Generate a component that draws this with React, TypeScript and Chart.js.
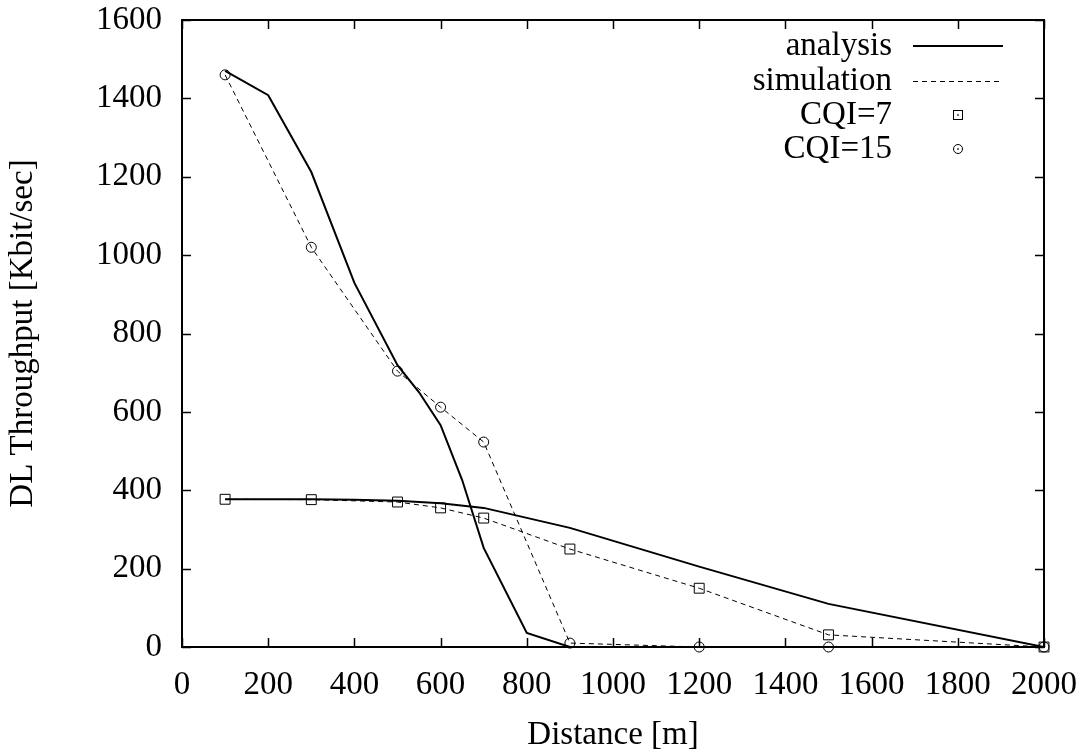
import React, { useEffect, useRef } from "react";
import { Chart, registerables } from "chart.js";

Chart.register(...registerables);

// Analysis curves
const analysisDist15 = [100, 200, 300, 400, 500, 550, 600, 650, 700, 800, 900, 1200, 1500, 2000];
const analysisCqi15 = [1470, 1408, 1212, 929, 719, 650, 566, 426, 253, 36, 0, 0, 0, 0];
const analysisDist7 = [100, 200, 300, 400, 500, 600, 700, 900, 1200, 1500, 2000];
const analysisCqi7 = [377, 377, 377, 376, 373, 367, 355, 304, 205, 110, 0];

// Simulation points
const simDist = [100, 300, 500, 600, 700, 900, 1200, 1500, 2000];
const simCqi15 = [1460, 1020, 704, 612, 523, 10, 0, 0, 0];
const simCqi7 = [377, 376, 370, 355, 329, 250, 150, 31, 0];

const xTicks = [0, 200, 400, 600, 800, 1000, 1200, 1400, 1600, 1800, 2000];
const yTicks = [0, 200, 400, 600, 800, 1000, 1200, 1400, 1600];

const legendLabels = ["analysis", "simulation", "CQI=7", "CQI=15"];
const xTitle = "Distance [m]";
const yTitle = "DL Throughput [Kbit/sec]";

const FONT = "'Liberation Serif', 'Times New Roman', serif";

const pts = (xs: number[], ys: number[]) => xs.map((x, i) => ({ x, y: ys[i] }));

const framePlugin = {
  id: "frame",
  afterDraw(chart: any) {
    const { ctx, chartArea: a, scales } = chart;
    const xs = scales.x;
    const ys = scales.y;
    ctx.save();
    ctx.strokeStyle = "#000";
    ctx.lineWidth = 1.5;
    const tl = 9;
    ctx.beginPath();
    xTicks.forEach((v) => {
      const px = Math.round(xs.getPixelForValue(v)) + 0.5;
      ctx.moveTo(px, a.bottom);
      ctx.lineTo(px, a.bottom - tl);
      ctx.moveTo(px, a.top);
      ctx.lineTo(px, a.top + tl);
    });
    yTicks.forEach((v) => {
      const py = Math.round(ys.getPixelForValue(v)) + 0.5;
      ctx.moveTo(a.left, py);
      ctx.lineTo(a.left + tl, py);
      ctx.moveTo(a.right, py);
      ctx.lineTo(a.right - tl, py);
    });
    ctx.stroke();
    ctx.lineWidth = 2;
    ctx.strokeRect(a.left, a.top, a.right - a.left, a.bottom - a.top);

    // legend
    ctx.font = `33px ${FONT}`;
    ctx.fillStyle = "#000";
    ctx.textAlign = "right";
    ctx.textBaseline = "middle";
    const textRight = 892;
    const sx0 = 913;
    const sx1 = 1003;
    const rowY = [46, 81, 115, 149];
    legendLabels.forEach((lab, i) => {
      ctx.fillText(lab, textRight, rowY[i]);
    });
    ctx.lineWidth = 2;
    ctx.setLineDash([]);
    ctx.beginPath();
    ctx.moveTo(sx0, rowY[0]);
    ctx.lineTo(sx1, rowY[0]);
    ctx.stroke();
    ctx.lineWidth = 1;
    ctx.setLineDash([5, 4]);
    ctx.beginPath();
    ctx.moveTo(sx0, rowY[1] + 0.5);
    ctx.lineTo(sx1, rowY[1] + 0.5);
    ctx.stroke();
    ctx.setLineDash([]);
    const cx = (sx0 + sx1) / 2;
    ctx.strokeRect(cx - 4.5, rowY[2] - 4.5, 9, 9);
    ctx.fillRect(cx - 0.75, rowY[2] - 0.75, 1.5, 1.5);
    ctx.beginPath();
    ctx.arc(cx, rowY[3], 4.5, 0, Math.PI * 2);
    ctx.stroke();
    ctx.fillRect(cx - 0.75, rowY[3] - 0.75, 1.5, 1.5);
    ctx.restore();
  },
};

export default function App() {
  const ref = useRef<HTMLCanvasElement | null>(null);
  useEffect(() => {
    if (!ref.current) return;
    const chart = new Chart(ref.current, {
      type: "line",
      data: {
        datasets: [
          {
            label: "analysis CQI=15",
            data: pts(analysisDist15, analysisCqi15),
            borderColor: "#000",
            borderWidth: 2,
            pointRadius: 0,
            tension: 0,
          },
          {
            label: "analysis CQI=7",
            data: pts(analysisDist7, analysisCqi7),
            borderColor: "#000",
            borderWidth: 2,
            pointRadius: 0,
            tension: 0,
          },
          {
            label: "simulation CQI=15",
            data: pts(simDist, simCqi15),
            borderColor: "#000",
            borderWidth: 1,
            borderDash: [5, 4],
            pointStyle: "circle",
            pointRadius: 5,
            pointBorderWidth: 1,
            pointBackgroundColor: "rgba(0,0,0,0)",
            pointBorderColor: "#000",
            tension: 0,
            clip: false as any,
          },
          {
            label: "simulation CQI=7",
            data: pts(simDist, simCqi7),
            borderColor: "#000",
            borderWidth: 1,
            borderDash: [5, 4],
            pointStyle: "rect",
            pointRadius: 7,
            pointBorderWidth: 1,
            pointBackgroundColor: "rgba(0,0,0,0)",
            pointBorderColor: "#000",
            tension: 0,
            clip: false as any,
          },
        ],
      },
      options: {
        animation: false,
        responsive: false,
        maintainAspectRatio: false,
        layout: { padding: { top: 20, right: 43, left: 0, bottom: 0 } },
        plugins: { legend: { display: false }, tooltip: { enabled: false } },
        scales: {
          x: {
            type: "linear",
            min: 0,
            max: 2000,
            afterFit: (s: any) => {
              s.height = 105;
              s.paddingLeft = 0;
              s.paddingRight = 0;
            },
            afterBuildTicks: (s: any) => {
              s.ticks = xTicks.map((v) => ({ value: v }));
            },
            grid: { display: false, drawTicks: false },
            border: { display: false },
            ticks: {
              color: "#000",
              padding: 19,
              maxRotation: 0,
              autoSkip: false,
              font: { family: FONT, size: 33 },
              callback: (v: any) => String(v),
            },
            title: {
              display: true,
              text: xTitle,
              color: "#000",
              font: { family: FONT, size: 33, lineHeight: 1 },
              padding: { top: 0, bottom: 0 },
            },
          },
          y: {
            type: "linear",
            min: 0,
            max: 1600,
            afterFit: (s: any) => {
              s.width = 182;
              s.paddingTop = 0;
              s.paddingBottom = 0;
            },
            afterBuildTicks: (s: any) => {
              s.ticks = yTicks.map((v) => ({ value: v }));
            },
            grid: { display: false, drawTicks: false },
            border: { display: false },
            ticks: {
              color: "#000",
              padding: 20,
              autoSkip: false,
              font: { family: FONT, size: 33 },
              callback: (v: any) => String(v),
            },
            title: {
              display: true,
              text: yTitle,
              color: "#000",
              font: { family: FONT, size: 33 },
              padding: { top: 4, bottom: 0 },
            },
          },
        },
      },
      plugins: [framePlugin],
    });
    return () => chart.destroy();
  }, []);
  return (
    <div style={{ position: "fixed", left: 0, top: 0, width: 1087, height: 752, background: "#fff" }}>
      <canvas ref={ref} width={1087} height={752} style={{ display: "block" }} />
    </div>
  );
}
